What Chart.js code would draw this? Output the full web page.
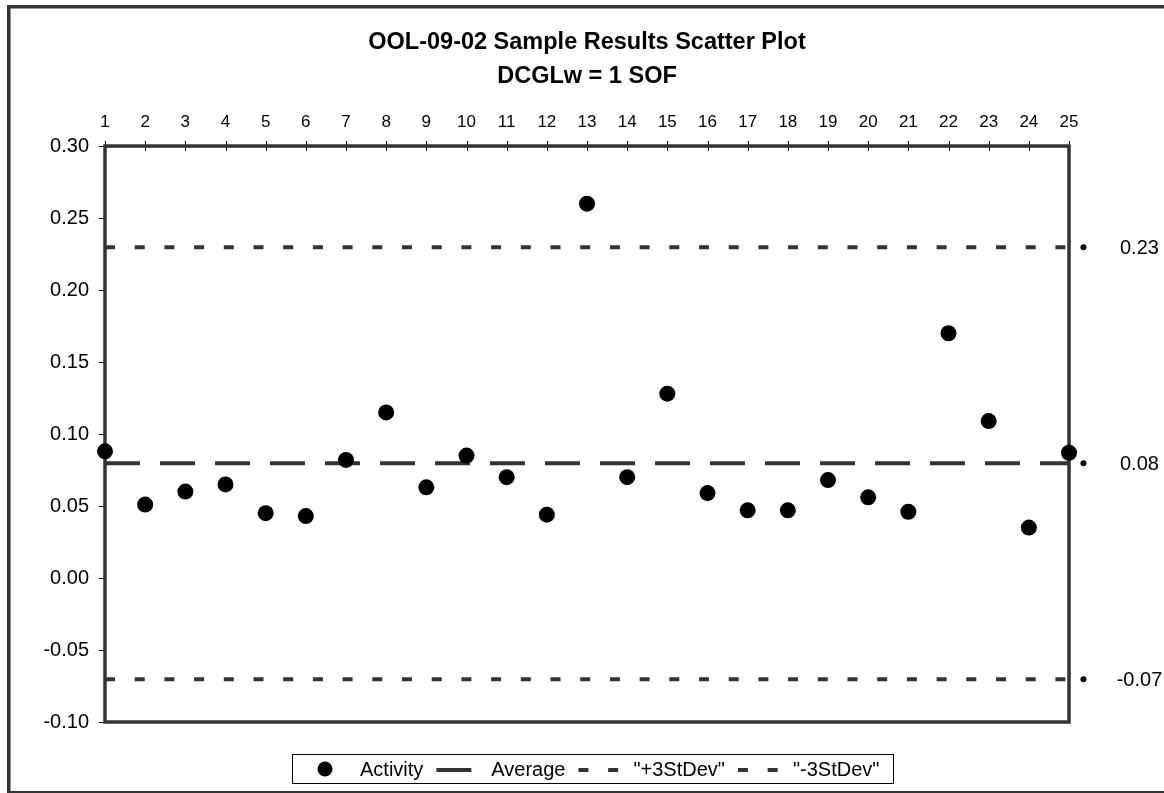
<!DOCTYPE html>
<html>
<head>
<meta charset="utf-8">
<title>OOL-09-02 Sample Results Scatter Plot</title>
<script src="https://cdn.jsdelivr.net/npm/chart.js@4.4.1/dist/chart.umd.min.js"></script>
<style>
  html, body { margin: 0; padding: 0; background: #fff; overflow: hidden; }
  .chart-container { position: relative; width: 1164px; height: 793px; }
</style>
</head>
<body>
<div class="chart-container"><canvas id="scatter-chart"></canvas></div>
<script>
// sample numbers along the top axis
const sampleNumbers = [1, 2, 3, 4, 5, 6, 7, 8, 9, 10, 11, 12, 13, 14, 15, 16, 17, 18, 19, 20, 21, 22, 23, 24, 25];
// activity per sample (SOF)
const activityValues = [
  0.088, 0.051, 0.060, 0.065, 0.045, 0.043, 0.082, 0.115, 0.063, 0.085, 0.070, 0.044, 0.260,
  0.070, 0.128, 0.059, 0.047, 0.047, 0.068, 0.056, 0.046, 0.170, 0.109, 0.035, 0.087,
];
const averageValue = 0.0797;
const plus3StDev = 0.2297;
const minus3StDev = -0.0703;
const yTickValues = [-0.1, -0.05, 0, 0.05, 0.1, 0.15, 0.2, 0.25, 0.3];

const fontFamily = '"Liberation Sans", Arial, sans-serif';
const ink = "#333333";

Chart.defaults.font.family = fontFamily;
Chart.defaults.color = "#000";

const firstSample = sampleNumbers[0];
const lastSample = sampleNumbers[sampleNumbers.length - 1];
// the value labels sit just right of the plot, like Excel's end-point labels
const labelSample = lastSample + 0.36;

function flatLine(value) {
  return [
    { x: firstSample, y: value },
    { x: lastSample, y: value },
  ];
}

// outer border, plot frame and tick marks
const frame = {
  id: "frame",
  beforeDraw(chart) {
    const ctx = chart.ctx;
    ctx.save();
    ctx.strokeStyle = ink;
    ctx.lineWidth = 3.5;
    ctx.strokeRect(8.75, 6.75, 1300, 786);
    ctx.restore();
  },
  beforeDatasetsDraw(chart) {
    const { ctx, chartArea: a, scales } = chart;
    ctx.save();
    ctx.strokeStyle = "#000";
    ctx.lineWidth = 1;
    ctx.beginPath();
    scales.x.ticks.forEach((t) => {
      const px = Math.round(scales.x.getPixelForValue(t.value)) + 0.5;
      ctx.moveTo(px, a.top - 5);
      ctx.lineTo(px, a.top + 5);
    });
    scales.y.ticks.forEach((t) => {
      const py = Math.round(scales.y.getPixelForValue(t.value)) + 0.5;
      ctx.moveTo(a.left - 6, py);
      ctx.lineTo(a.left, py);
    });
    ctx.stroke();
    ctx.strokeStyle = ink;
    ctx.lineWidth = 3.5;
    ctx.strokeRect(a.left, a.top, a.right - a.left, a.bottom - a.top);
    ctx.restore();
  },
};

// small dots with 0.23 / 0.08 / -0.07 just outside the plot
// (the point elements lie outside the chart area, so Chart.js skips them)
const limitLabels = {
  id: "limitLabels",
  afterDatasetsDraw(chart) {
    const ctx = chart.ctx;
    chart.data.datasets.forEach((ds, i) => {
      if (!ds.valueLabels) return;
      const meta = chart.getDatasetMeta(i);
      ctx.save();
      ctx.font = "20px " + fontFamily;
      ctx.fillStyle = "#000";
      ctx.textAlign = "center";
      ctx.textBaseline = "middle";
      meta.data.forEach((el, j) => {
        ctx.beginPath();
        ctx.arc(el.x, el.y, ds.pointRadius, 0, Math.PI * 2);
        ctx.fill();
        ctx.fillText(ds.data[j].y.toFixed(2), el.x + 56, el.y + 1);
      });
      ctx.restore();
    });
  },
};

// boxed legend along the bottom
const legendBox = {
  id: "legendBox",
  afterDraw(chart) {
    const ctx = chart.ctx;
    const box = { left: 292, top: 754, right: 893, bottom: 783 };
    const y = 770;
    ctx.save();
    ctx.strokeStyle = "#000";
    ctx.lineWidth = 1;
    ctx.strokeRect(box.left + 0.5, box.top + 0.5, box.right - box.left, box.bottom - box.top);
    ctx.font = "20px " + fontFamily;
    ctx.textBaseline = "middle";
    let x = box.left + 13;
    chart.data.datasets.forEach((ds) => {
      if (!ds.label) return;
      if (ds.showLine) {
        ctx.save();
        ctx.strokeStyle = ds.borderColor;
        ctx.lineWidth = ds.borderWidth;
        ctx.setLineDash(ds.borderDash || []);
        ctx.beginPath();
        ctx.moveTo(x, y);
        ctx.lineTo(x + 40, y);
        ctx.stroke();
        ctx.restore();
      } else {
        ctx.fillStyle = ds.pointBackgroundColor;
        ctx.beginPath();
        ctx.arc(x + 20, y - 1, 7.5, 0, Math.PI * 2);
        ctx.fill();
      }
      x += 40 + 15;
      ctx.fillStyle = "#000";
      ctx.fillText(ds.label, x, y);
      x += ctx.measureText(ds.label).width + 13;
    });
    ctx.restore();
  },
};

const data = {
  datasets: [
    {
      label: "Activity",
      data: sampleNumbers.map((n, i) => ({ x: n, y: activityValues[i] })),
      pointRadius: 8,
      pointBackgroundColor: "#000",
      pointBorderWidth: 0,
      showLine: false,
      clip: false,
    },
    {
      label: "Average",
      data: flatLine(averageValue),
      showLine: true,
      borderColor: ink,
      borderWidth: 4,
      borderDash: [35, 20],
      pointRadius: 0,
    },
    {
      label: '"+3StDev"',
      data: flatLine(plus3StDev),
      showLine: true,
      borderColor: ink,
      borderWidth: 4,
      borderDash: [10, 19.7],
      pointRadius: 0,
    },
    {
      label: '"-3StDev"',
      data: flatLine(minus3StDev),
      showLine: true,
      borderColor: ink,
      borderWidth: 4,
      borderDash: [10, 19.7],
      pointRadius: 0,
    },
    {
      data: [plus3StDev, averageValue, minus3StDev].map((v) => ({ x: labelSample, y: v })),
      valueLabels: true,
      showLine: false,
      pointRadius: 3,
      pointBackgroundColor: "#000",
      pointBorderWidth: 0,
      clip: false,
    },
  ],
};

const options = {
  responsive: true,
  maintainAspectRatio: false,
  animation: false,
  layout: {
    padding: { top: 0, left: 0, right: 95, bottom: 71 },
  },
  scales: {
    x: {
      type: "linear",
      position: "top",
      min: firstSample,
      max: lastSample,
      grid: { display: false, drawTicks: false },
      border: { display: false },
      ticks: {
        padding: 14,
        autoSkip: false,
        maxRotation: 0,
        font: { size: 17 },
        color: "#000",
      },
      afterBuildTicks: (scale) => {
        scale.ticks = sampleNumbers.map((v) => ({ value: v }));
      },
      afterFit: (scale) => {
        scale.height = 53.5;
      },
    },
    y: {
      type: "linear",
      min: yTickValues[0],
      max: yTickValues[yTickValues.length - 1],
      grid: { display: false, drawTicks: false },
      border: { display: false },
      ticks: {
        padding: 16,
        font: { size: 20 },
        color: "#000",
        callback: (v) => Number(v).toFixed(2),
      },
      afterBuildTicks: (scale) => {
        scale.ticks = yTickValues.map((v) => ({ value: v }));
      },
      afterFit: (scale) => {
        scale.width = 105;
      },
    },
  },
  plugins: {
    legend: { display: false },
    tooltip: { enabled: false },
    title: {
      display: true,
      text: ["OOL-09-02 Sample Results Scatter Plot", "DCGLw = 1 SOF"],
      fullSize: false,
      color: "#000",
      font: { size: 23.5, weight: "bold", lineHeight: 1.405 },
      padding: { top: 26.5, bottom: 0 },
    },
  },
};

const ctx = document.getElementById("scatter-chart").getContext("2d");
const scatterChart = new Chart(ctx, {
  type: "scatter",
  data: data,
  options: options,
  plugins: [frame, limitLabels, legendBox],
});
</script>
</body>
</html>
